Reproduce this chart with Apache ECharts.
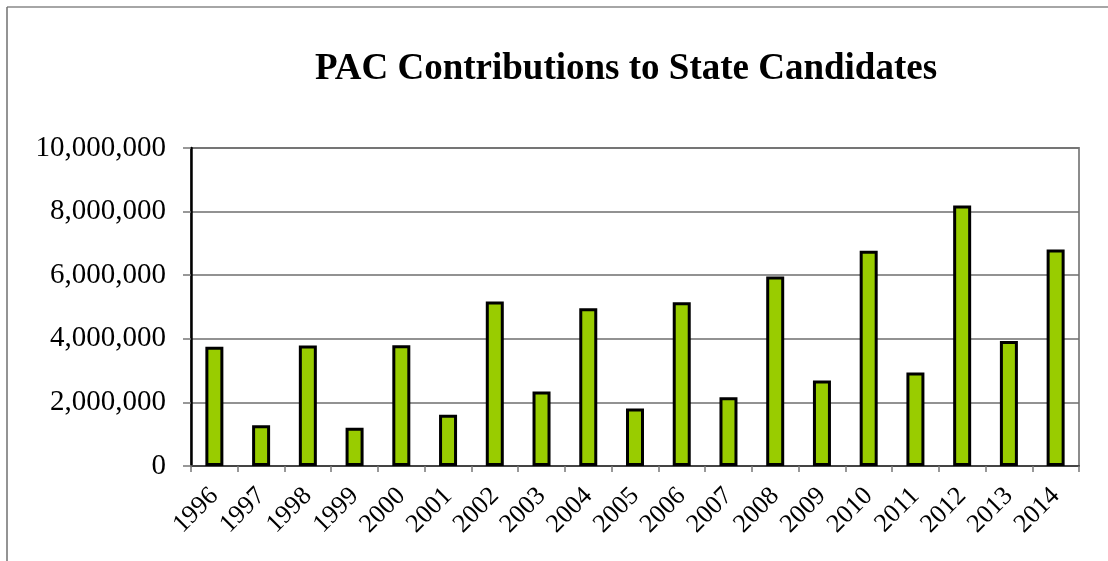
<!DOCTYPE html>
<html>
<head>
<meta charset="utf-8">
<script src="https://cdn.jsdelivr.net/npm/echarts@6/dist/echarts.min.js"></script>
<style>
html,body{margin:0;padding:0;background:#fff;}
#chart{width:1108px;height:561px;}
</style>
</head>
<body>
<div id="chart"></div>
<script>
const titleText = 'PAC Contributions to State Candidates';
const years = ['1996','1997','1998','1999','2000','2001','2002','2003','2004','2005','2006','2007','2008','2009','2010','2011','2012','2013','2014'];
const contributions = [3750000,1280000,3790000,1200000,3800000,1610000,5170000,2340000,4960000,1810000,5150000,2160000,5960000,2690000,6770000,2940000,8190000,3930000,6810000];
const yTicks = [0,2000000,4000000,6000000,8000000,10000000];

const serif = '"Liberation Serif","Times New Roman",serif';
const chart = echarts.init(document.getElementById('chart'), null, {renderer:'canvas'});
chart.setOption({
  animation:false,
  backgroundColor:'#ffffff',
  title:{
    text:titleText,
    left:621, textAlign:'center', top:46,
    textStyle:{fontFamily:serif,fontWeight:'bold',fontSize:37,color:'#000'}
  },
  graphic:[
    {type:'line',shape:{x1:7,y1:7,x2:1108,y2:7},style:{stroke:'#a6a6a6',lineWidth:2},silent:true},
    {type:'line',shape:{x1:7,y1:7,x2:7,y2:561},style:{stroke:'#707070',lineWidth:1.5},silent:true}
  ],
  grid:{left:191,right:29,top:148,bottom:95,show:true,borderColor:'#8c8c8c',borderWidth:2,backgroundColor:'transparent'},
  xAxis:{
    type:'category',
    data:years,
    boundaryGap:true,
    axisLine:{lineStyle:{color:'#444',width:2}},
    axisTick:{show:true,length:6,lineStyle:{color:'#777',width:1.5}},
    axisLabel:{rotate:45,fontFamily:serif,fontSize:26,color:'#000',margin:26,interval:0}
  },
  yAxis:{
    type:'value',
    min:yTicks[0], max:yTicks[yTicks.length-1], interval:yTicks[1]-yTicks[0],
    axisLine:{show:true,lineStyle:{color:'#000',width:2.5}},
    axisTick:{show:true,length:8,lineStyle:{color:'#777',width:1.5}},
    axisLabel:{fontFamily:serif,fontSize:29,color:'#000',margin:25,
      formatter:v=>v.toLocaleString('en-US')},
    splitLine:{show:true,lineStyle:{color:'#6e6e6e',width:1.5}}
  },
  series:[{
    type:'bar',
    data:contributions,
    barWidth:18,
    itemStyle:{color:'#99cc00',borderColor:'#000',borderWidth:3}
  }]
});
</script>
</body>
</html>
